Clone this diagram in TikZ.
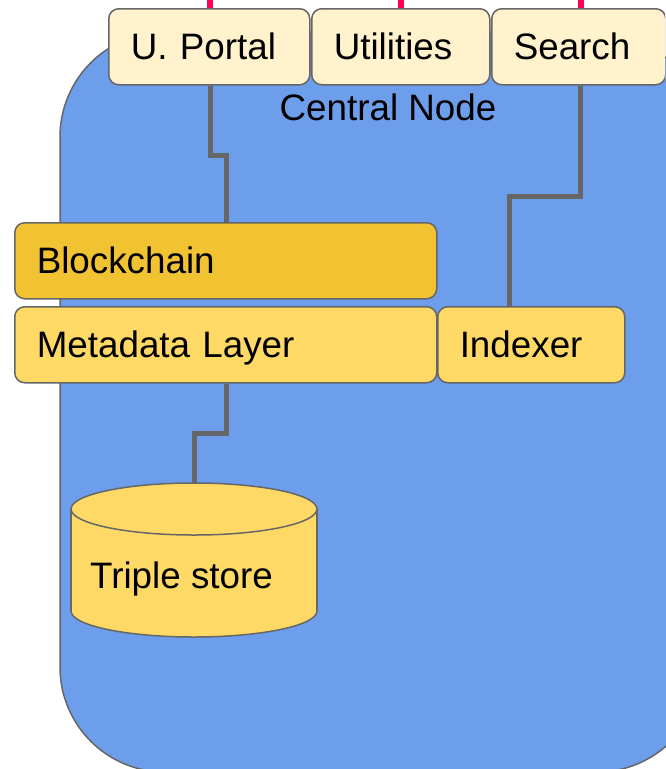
\documentclass[tikz,border=0pt]{standalone}
\usepackage{fontspec}
\setmainfont{Liberation Sans}
\usetikzlibrary{calc,backgrounds}
\definecolor{bluebg}{HTML}{6D9EEB}
\definecolor{lightbox}{HTML}{FFF2CC}
\definecolor{goldbox}{HTML}{F1C232}
\definecolor{yellowbox}{HTML}{FFD966}
\definecolor{edgegray}{HTML}{666666}
\definecolor{pinkline}{HTML}{FF0055}
\begin{document}
\begin{tikzpicture}[x=1pt,y=-1pt,
  box/.style={draw=edgegray,line width=1.5pt,rounded corners=10pt,anchor=north west,
    minimum height=76pt,inner xsep=22pt,inner ysep=0pt,align=left,
    text height=26pt,text depth=0pt,font=\fontsize{36.8}{40}\selectfont},
  lbl/.style={inner sep=0pt,text height=26pt,text depth=0pt,font=\fontsize{36.8}{40}\selectfont},
  conn/.style={draw=edgegray,line width=5pt},
  pinkl/.style={draw=pinkline,line width=6pt}]
\useasboundingbox (0,0) rectangle (665,769);
\clip (0,0) rectangle (665,769);
% boxes
\node[box,fill=lightbox,text width=157pt] (portal) at (108,8) {U. Portal};
\node[box,fill=lightbox,text width=134pt] (util) at (311,8) {Utilities};
\node[box,fill=lightbox,text width=130pt] (search) at (491,8) {Search};
\node[box,fill=goldbox,text width=378pt] (blockchain) at (14,222) {Blockchain};
\node[box,fill=yellowbox,text width=378pt] (meta) at (14,306) {Metadata Layer};
\node[box,fill=yellowbox,text width=143pt] (indexer) at (437,306) {Indexer};
\coordinate (idxin) at (509,306);
\coordinate (tstop) at (194,483);
\begin{pgfonlayer}{background}
% central node background
\draw[fill=bluebg,draw=edgegray,line width=1.5pt,rounded corners=105pt] (60,32) rectangle (702,772);
% connectors
\draw[conn] ($(portal.south)+(1.5,0)$) -- ++(0,70) -| ($(blockchain.north)+(1,0)$);
\draw[conn] ($(search.south)+(2,0)$) -- ++(0,111) -| (idxin);
\draw[conn] ($(meta.south)+(1,0)$) -- ++(0,50) -| (tstop);
% pink lines
\draw[pinkl] ($(portal.north)+(0.5,0)$) -- ++(0,-10);
\draw[pinkl] (util.north) -- ++(0,-10);
\draw[pinkl] ($(search.north)+(2,0)$) -- ++(0,-10);
\end{pgfonlayer}
\node[lbl] (central) at (388,107) {Central Node};
% triple store cylinder
\filldraw[fill=yellowbox,draw=edgegray,line width=1.5pt] (194,611) ellipse [x radius=123pt,y radius=26pt];
\fill[yellowbox] (71,509) rectangle (317,611);
\draw[edgegray,line width=1.5pt] (71,509) -- (71,611) (317,509) -- (317,611);
\filldraw[fill=yellowbox,draw=edgegray,line width=1.5pt] (194,509) ellipse [x radius=123pt,y radius=26pt];
\node[lbl,anchor=west] (triple) at (90,575) {Triple store};
\end{tikzpicture}
\end{document}
